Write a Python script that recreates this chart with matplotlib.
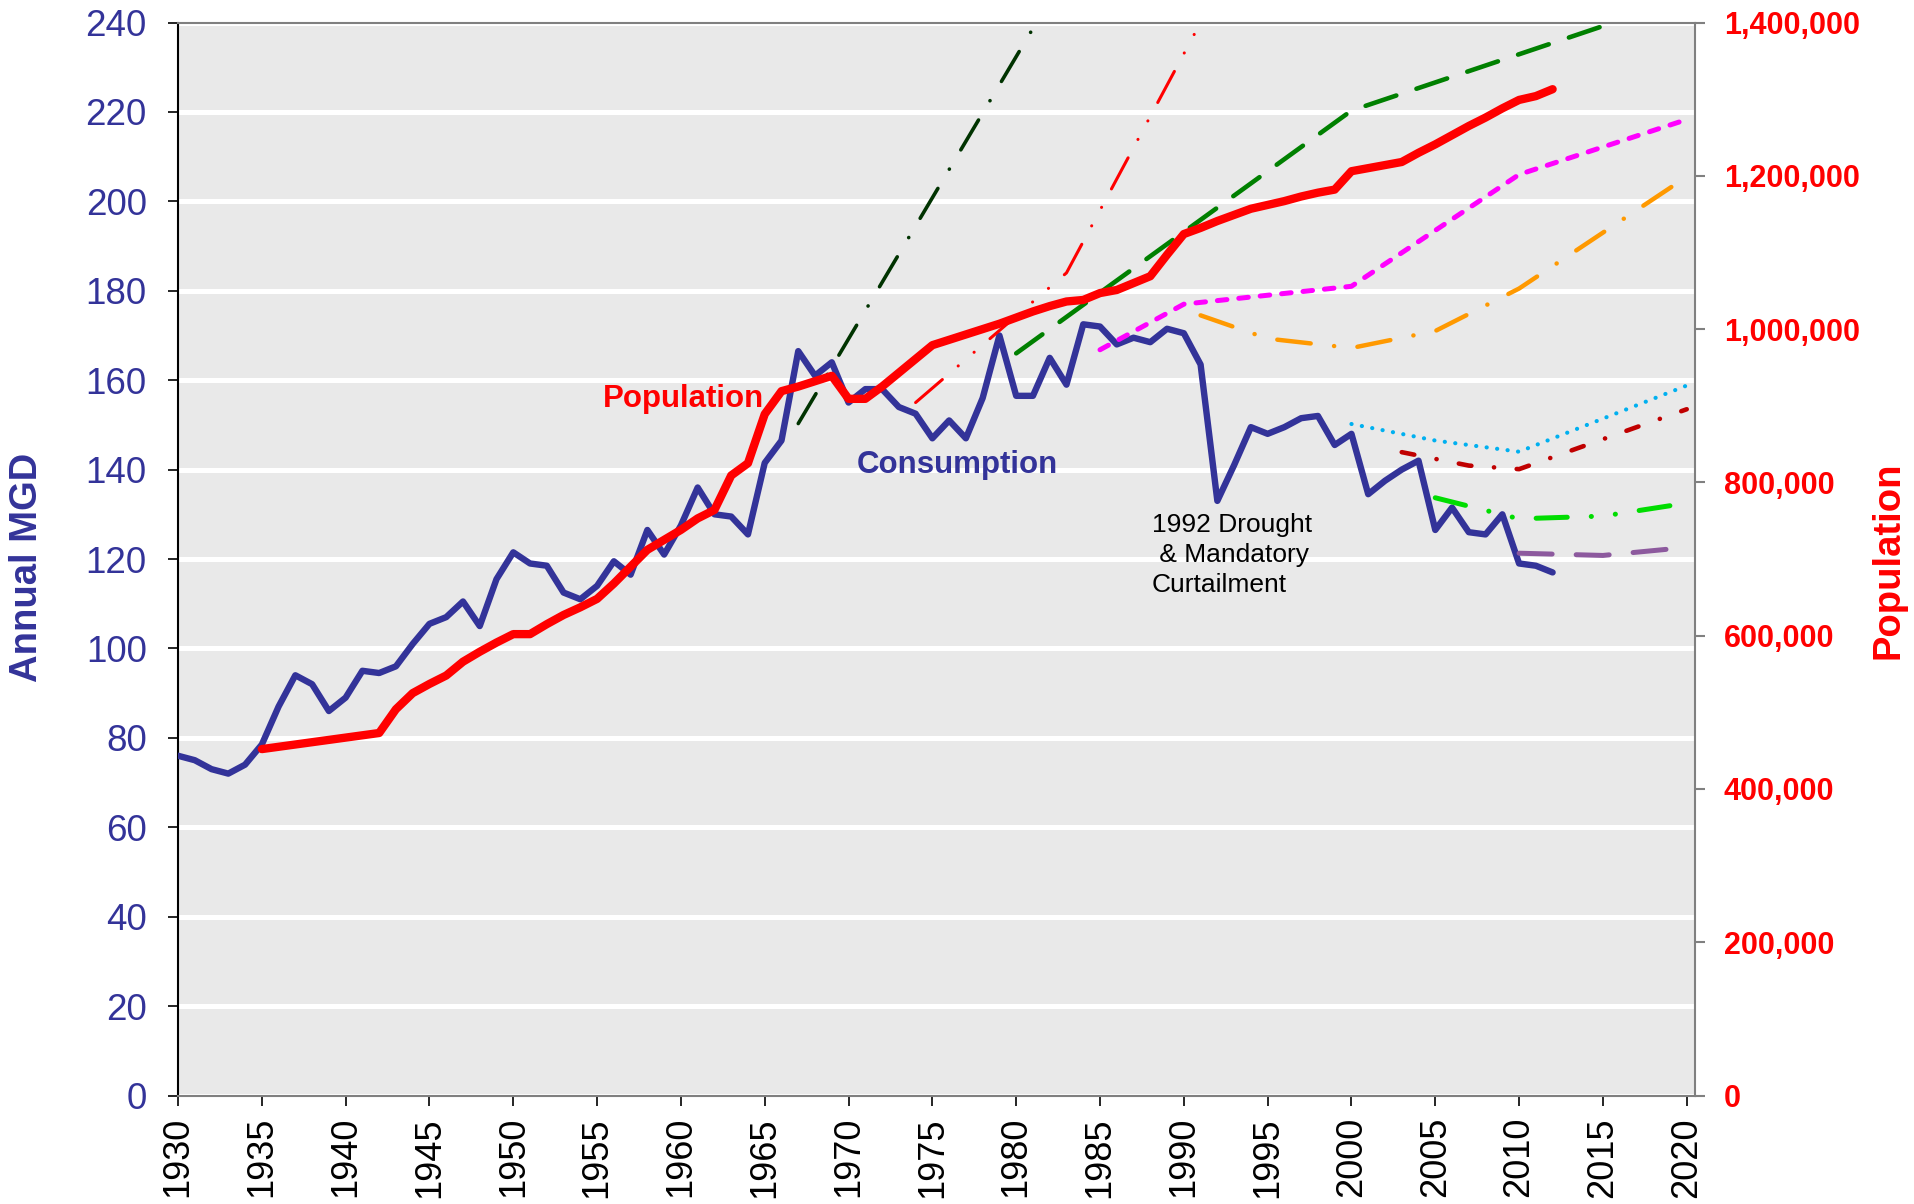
import matplotlib
matplotlib.use("Agg")
import matplotlib.pyplot as plt
from matplotlib.ticker import FuncFormatter

plt.rcParams['font.family'] = ['Liberation Sans', 'DejaVu Sans']
plt.rcParams['lines.scale_dashes'] = False

# ---- data ----
cons_years = list(range(1930, 2013))
consumption = [76, 75, 73, 72, 74, 78.5, 87, 94, 92, 86,
               89, 95, 94.5, 96, 101, 105.5, 107, 110.5, 105, 115.5,
               121.5, 119, 118.5, 112.5, 111, 114, 119.5, 116.5, 126.5, 121,
               127.5, 136, 130, 129.5, 125.5, 141.5, 146.5, 166.5, 161, 164,
               155, 158, 158, 154, 152.5, 147, 151, 147, 156, 170,
               156.5, 156.5, 165, 159, 172.5, 172, 168, 169.5, 168.5, 171.5,
               170.5, 163.5, 133, 141, 149.5, 148, 149.5, 151.5, 152, 145.5,
               148, 134.5, 137.5, 140, 142, 126.5, 131.5, 126, 125.5, 130,
               119, 118.5, 117]

pop_years = list(range(1935, 2013))
population = [452000, 455000, 458000, 461000, 464000,
              467000, 470000, 473000, 504000, 525000, 537000, 548000, 566000, 579000, 591000,
              602000, 602000, 615000, 627000, 637000, 648000, 668000, 690000, 712000, 725000,
              738000, 753000, 764000, 809000, 825000, 889000, 919000, 925000, 932000, 939000,
              909000, 909000, 925000, 943000, 961000, 979000, 986000, 993000, 1000000, 1007000,
              1015000, 1023000, 1030000, 1036000, 1038000, 1047000, 1051000, 1060000, 1069000, 1097000,
              1124000, 1132000, 1141000, 1149000, 1157000, 1162000, 1167000, 1173000, 1178000, 1182000,
              1206000, 1210000, 1214000, 1218000, 1230000, 1241000, 1253000, 1265000, 1276000, 1288000,
              1299000, 1304000, 1313000]

# projections (MGD)
proj_1967_years = [1967, 1982]
proj_1967 = [150.3, 245]
proj_1974_years = [1974, 1983, 1992]
proj_1974 = [155, 184, 247]
proj_1980_years = [1980, 2000, 2020]
proj_1980 = [166, 220.3, 245.5]
proj_1985_years = [1985, 1990, 2000, 2010, 2020]
proj_1985 = [166.8, 177, 181, 206, 218.3]
proj_1991_years = [1991, 1995, 2000, 2005, 2010, 2020]
proj_1991 = [174.5, 169.3, 167.2, 171, 180.5, 205.5]
proj_2000_years = [2000, 2005, 2010, 2020]
proj_2000 = [150.2, 146.5, 144.0, 158.8]
proj_2003_years = [2003, 2007, 2010, 2020]
proj_2003 = [143.9, 140.9, 140.1, 153.5]
proj_2005_years = [2005, 2010, 2015, 2020]
proj_2005 = [133.7, 129.0, 129.6, 132.5]
proj_2010_years = [2010, 2015, 2020]
proj_2010 = [121.3, 120.8, 122.6]

projections = [
    (proj_1967_years, proj_1967, '#003300', 2.6, (25, 16.1, 0.1, 16.1)),
    (proj_1974_years, proj_1974, '#FF0000', 2.2, (25.4, 15, 0.1, 15, 0.1, 15)),
    (proj_1980_years, proj_1980, '#008000', 3.3, (23.3, 15.3)),
    (proj_1985_years, proj_1985, '#FF00FF', 3.6, (6.9, 8.6)),
    (proj_1991_years, proj_1991, '#FF9900', 3.2, (24.2, 16.9, 0.1, 16.9)),
    (proj_2000_years, proj_2000, '#00B0F0', 3.0, (0.1, 7.5)),
    (proj_2003_years, proj_2003, '#C00000', 3.3, (9.2, 16.3, 0.1, 16.3)),
    (proj_2005_years, proj_2005, '#00DD00', 3.6, (22.4, 17.3, 0.1, 17.3, 0.1, 17.3)),
    (proj_2010_years, proj_2010, '#8D5A9E', 3.6, (23.8, 17.3)),
]

blue = '#333399'

fig = plt.figure(figsize=(19.15, 12.04), dpi=100)
ax = fig.add_axes([0.09295, 0.0901, 0.7924, 0.8912])
ax.set_facecolor('#E9E9E9')
ax.set_axisbelow(True)
ax.yaxis.grid(True, color='white', linewidth=3.6)

ax.plot(cons_years, consumption, color=blue, lw=4.6,
        solid_joinstyle='round', solid_capstyle='round', zorder=3)

for yrs, vals, col, lw, dash in projections:
    ax.plot(yrs, vals, color=col, lw=lw, dashes=dash,
            dash_capstyle='round', zorder=4)

ax.set_xlim(1930, 2020.52)
ax.set_ylim(0, 240)
ax.set_xticks(range(1930, 2021, 5))
ax.set_yticks(range(0, 241, 20))
ax.tick_params(axis='x', direction='out', length=7.5, width=1.2, color='black',
               pad=8, labelsize=26, labelrotation=90)
ax.tick_params(axis='y', direction='out', length=7.5, width=1.2, color='black',
               pad=15, labelsize=26.5, labelcolor=blue)

ax.spines['left'].set_color('black')
ax.spines['left'].set_linewidth(1.5)
for s in ['top', 'bottom']:
    ax.spines[s].set_color('#808080')
    ax.spines[s].set_linewidth(1.5)
ax.spines['right'].set_visible(False)

ax2 = ax.twinx()
ax2.plot(pop_years, population, color='#FF0000', lw=6,
         solid_joinstyle='round', solid_capstyle='round', zorder=5)
ax2.set_ylim(0, 1400000)
ax2.set_yticks(range(0, 1400001, 200000))
ax2.yaxis.set_major_formatter(FuncFormatter(lambda v, p: f'{int(v):,}'))
ax2.tick_params(axis='y', direction='out', length=7.5, width=1.5, color='#808080',
                pad=13, labelsize=22, labelcolor='#FF0000')
for lab in ax2.get_yticklabels():
    lab.set_fontweight('bold')
for s in ['left', 'top', 'bottom']:
    ax2.spines[s].set_visible(False)
ax2.spines['right'].set_color('#808080')
ax2.spines['right'].set_linewidth(1.5)

# annotations
ax.text(1955.36, 154.1, 'Population', color='#FF0000', fontsize=22.5,
        fontweight='bold', ha='left', va='baseline', zorder=6)
ax.text(1970.5, 139.3, 'Consumption', color=blue, fontsize=22.5,
        fontweight='bold', ha='left', va='baseline', zorder=6)
ax.text(1988.1, 130.2, '1992 Drought\n & Mandatory\nCurtailment', color='black',
        fontsize=19, ha='left', va='top', linespacing=1.31, zorder=6)

fig.text(27 / 1915, 1 - 567 / 1204, 'Annual MGD', rotation=90, ha='center', va='center',
         fontsize=27.5, fontweight='bold', color=blue)
fig.text(1889 / 1915, 1 - 560 / 1204, 'Population', rotation=90, ha='center', va='center',
         fontsize=27.5, fontweight='bold', color='#FF0000')

fig.savefig('out.png', dpi=100)
